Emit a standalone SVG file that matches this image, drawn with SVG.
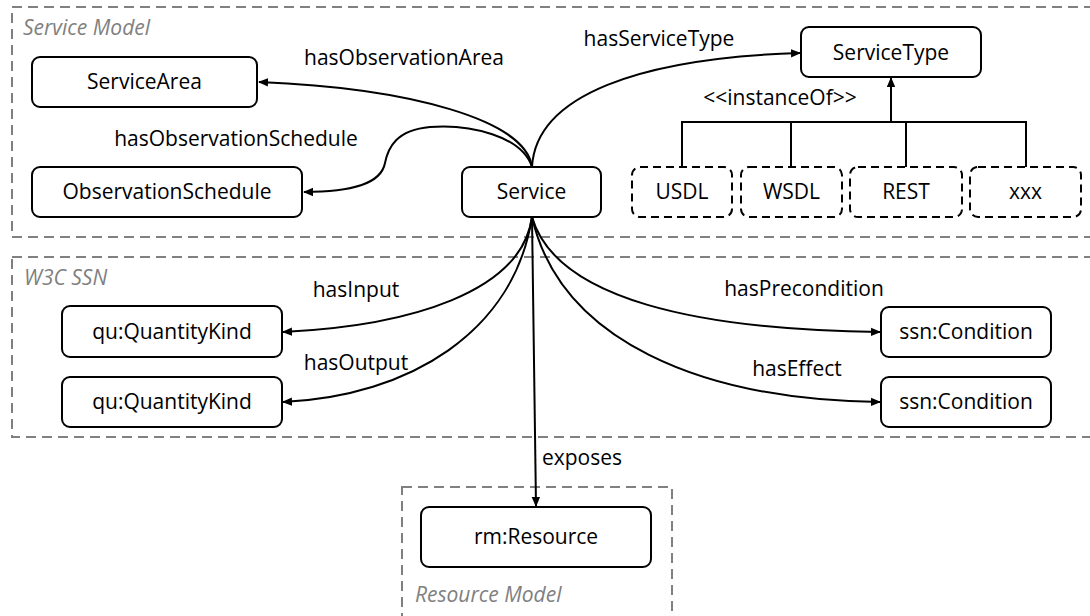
<svg xmlns="http://www.w3.org/2000/svg" width="1090" height="616" viewBox="0 0 1090 616">
<style>
.container{fill:none;stroke:#808080;stroke-width:2;stroke-dasharray:10 6}
.clabel{font-family:"Open Sans","Noto Sans",sans-serif;font-size:21px;font-style:italic;fill:#808080}
.node rect{fill:#fff;stroke:#000;stroke-width:2}
.node.dashed rect{stroke-dasharray:8 5}
.node text,.elabel{font-family:"Open Sans","Noto Sans",sans-serif;font-size:21px;fill:#000}
.node text{text-anchor:middle}
.elabel{text-anchor:middle}
.edge{fill:none;stroke:#000;stroke-width:2}
</style>
<defs>
<marker id="arr" viewBox="0 0 10 10" refX="9" refY="5" markerWidth="10" markerHeight="10" markerUnits="userSpaceOnUse" orient="auto">
<path d="M0,0.8 L10,5 L0,9.2 z" fill="#000"/>
</marker>
</defs>
<rect width="1090" height="616" fill="#fff"/>
<g id="containers">
<rect class="container" x="12" y="7" width="1090" height="230"/>
<text class="clabel" x="23" y="35">Service Model</text>
<rect class="container" x="12" y="257" width="1090" height="180"/>
<text class="clabel" x="24" y="285">W3C SSN</text>
<rect class="container" x="402" y="487" width="270" height="150"/>
<text class="clabel" x="415" y="602">Resource Model</text>
</g>
<g id="connectors">
<path class="edge" d="M532,167 C526,120 410,88 259,82" marker-end="url(#arr)"/>
<path class="edge" d="M532,167 C522,136 470,124 430,127 C396,130 388,148 385,163 C381,184 352,192 304,192" marker-end="url(#arr)"/>
<path class="edge" d="M532,167 C536,95 640,58 800,53" marker-end="url(#arr)"/>
<path class="edge" d="M532,217 C522,292 410,326 283,332" marker-end="url(#arr)"/>
<path class="edge" d="M532,217 C514,332 410,396 283,402" marker-end="url(#arr)"/>
<path class="edge" d="M532,217 C556,300 700,330 880,332" marker-end="url(#arr)"/>
<path class="edge" d="M532,217 C560,340 700,400 880,402" marker-end="url(#arr)"/>
<path class="edge" d="M532,217 L536,506" marker-end="url(#arr)"/>
<path class="edge" d="M682,167 V122 H1026 V167 M791,122 V167 M906,122 V167"/>
<path class="edge" stroke-width="3" d="M891,122 V78" marker-end="url(#arr)"/>
<text class="elabel" x="404" y="65">hasObservationArea</text>
<text class="elabel" x="236" y="146">hasObservationSchedule</text>
<text class="elabel" x="659" y="46">hasServiceType</text>
<text class="elabel" x="780" y="105">&lt;&lt;instanceOf&gt;&gt;</text>
<text class="elabel" x="356" y="297">hasInput</text>
<text class="elabel" x="356" y="370">hasOutput</text>
<text class="elabel" x="804" y="296">hasPrecondition</text>
<text class="elabel" x="797" y="376">hasEffect</text>
<text class="elabel" x="582" y="465">exposes</text>
</g>
<g id="ServiceArea" class="node"><rect x="32" y="57" width="225" height="50" rx="8"/><text x="144.5" y="89">ServiceArea</text></g>
<g id="ObservationSchedule" class="node"><rect x="32" y="167" width="270" height="50" rx="8"/><text x="167" y="199">ObservationSchedule</text></g>
<g id="Service" class="node"><rect x="462" y="167" width="139" height="50" rx="8"/><text x="531.5" y="199">Service</text></g>
<g id="ServiceType" class="node"><rect x="801" y="27" width="180" height="50" rx="8"/><text x="891" y="60">ServiceType</text></g>
<g id="USDL" class="node dashed"><rect x="632" y="167" width="100" height="50" rx="8"/><text x="682" y="199">USDL</text></g>
<g id="WSDL" class="node dashed"><rect x="741" y="167" width="101" height="50" rx="8"/><text x="791.5" y="199">WSDL</text></g>
<g id="REST" class="node dashed"><rect x="850" y="167" width="112" height="50" rx="8"/><text x="906" y="199">REST</text></g>
<g id="xxx" class="node dashed"><rect x="970" y="167" width="111" height="50" rx="8"/><text x="1025.5" y="199">xxx</text></g>
<g id="QuantityKindIn" class="node"><rect x="62" y="306" width="220" height="51" rx="8"/><text x="172" y="339">qu:QuantityKind</text></g>
<g id="QuantityKindOut" class="node"><rect x="62" y="377" width="220" height="50" rx="8"/><text x="172" y="409">qu:QuantityKind</text></g>
<g id="ConditionPre" class="node"><rect x="881" y="307" width="170" height="50" rx="8"/><text x="966" y="339">ssn:Condition</text></g>
<g id="ConditionEff" class="node"><rect x="881" y="377" width="170" height="50" rx="8"/><text x="966" y="409">ssn:Condition</text></g>
<g id="Resource" class="node"><rect x="421" y="507" width="230" height="60" rx="8"/><text x="536" y="544">rm:Resource</text></g>
</svg>
